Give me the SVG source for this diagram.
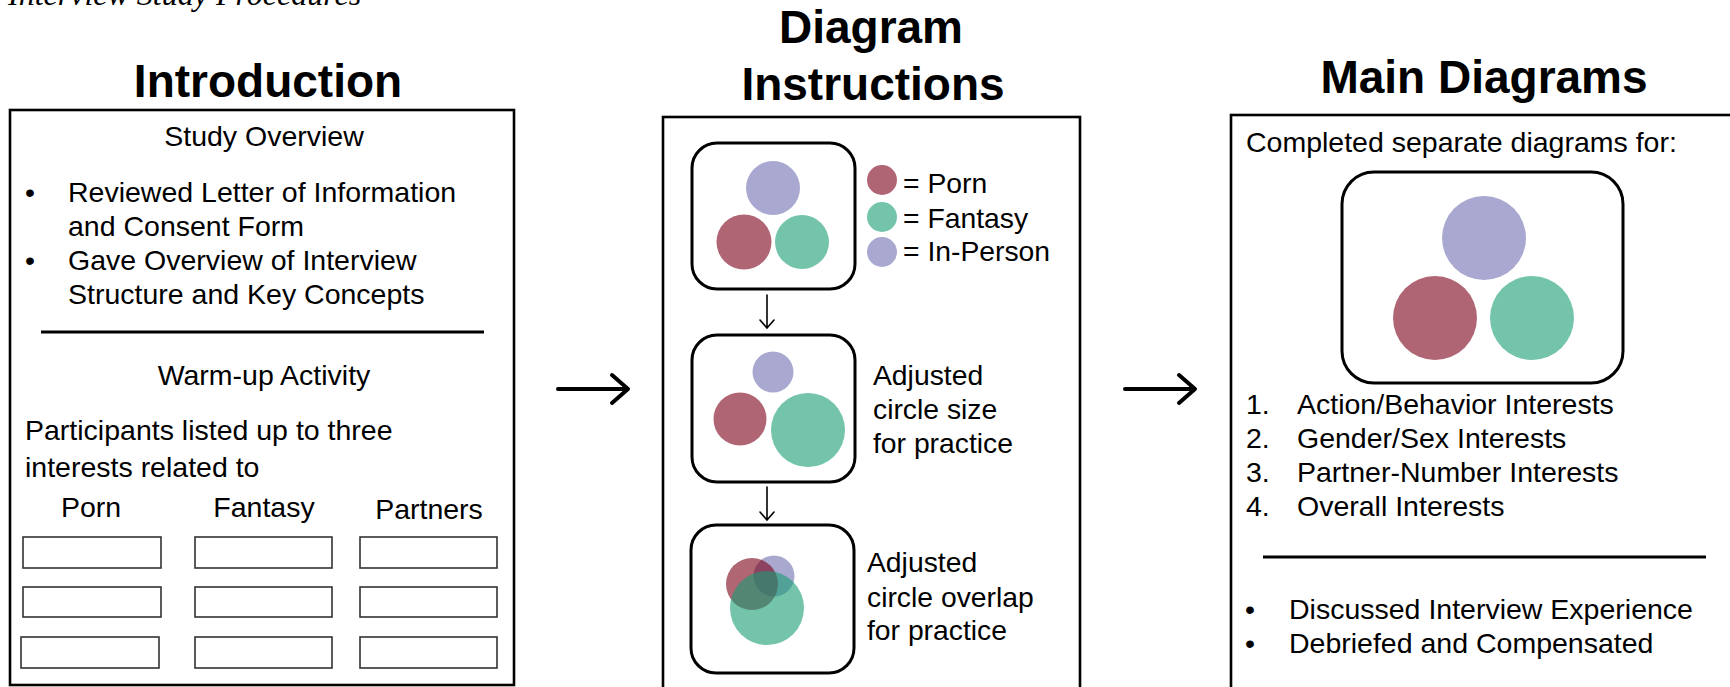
<svg xmlns="http://www.w3.org/2000/svg" width="1730" height="687" viewBox="0 0 1730 687">
<style>
text{font-family:"Liberation Sans",Arial,sans-serif;fill:#000}
.title{font-weight:bold;font-size:46px;text-anchor:middle}
.b{font-size:28.5px}
.m{font-size:28.3px}
.c{text-anchor:middle}
.panel{fill:none;stroke:#000;stroke-width:2.6}
.rbox{fill:#fff;stroke:#000;stroke-width:3}
.sbox{fill:none;stroke:#333;stroke-width:1.6}
.div{stroke:#000;stroke-width:3}
.por{fill:#b06575}
.fan{fill:#74c4ab}
.inp{fill:#a9a8d0}
.por2{fill:#7b0016;fill-opacity:0.6}
.fan2{fill:#179d73;fill-opacity:0.6}
.inp2{fill:#7070b1;fill-opacity:0.6}
.big{fill:none;stroke:#000;stroke-width:4;stroke-linecap:round;stroke-linejoin:round}
.small{fill:none;stroke:#000;stroke-width:1.6;stroke-linecap:round;stroke-linejoin:miter}
</style>

<text x="8" y="5" style="font-family:'Liberation Serif','Times New Roman',serif;font-style:italic;font-size:32px">Interview Study Procedures</text>

<g id="introduction">
<text class="title" x="268" y="97">Introduction</text>
<rect class="panel" x="10" y="110" width="504" height="575"/>
<text class="b c" x="264" y="146">Study Overview</text>
<text class="b" x="25" y="202">•</text>
<text class="b" x="68" y="202">Reviewed Letter of Information</text>
<text class="b" x="68" y="236">and Consent Form</text>
<text class="b" x="25" y="270">•</text>
<text class="b" x="68" y="270">Gave Overview of Interview</text>
<text class="b" x="68" y="304">Structure and Key Concepts</text>
<line class="div" x1="41" y1="332" x2="484" y2="332"/>
<text class="b c" x="264" y="385">Warm-up Activity</text>
<text class="b" x="25" y="440">Participants listed up to three</text>
<text class="b" x="25" y="477">interests related to</text>
<text class="b c" x="91" y="517">Porn</text>
<text class="b c" x="264" y="517">Fantasy</text>
<text class="b c" x="429" y="519">Partners</text>
<rect class="sbox" x="23" y="537" width="138" height="31"/>
<rect class="sbox" x="195" y="537" width="137" height="31"/>
<rect class="sbox" x="360" y="537" width="137" height="31"/>
<rect class="sbox" x="23" y="587" width="138" height="30"/>
<rect class="sbox" x="195" y="587" width="137" height="30"/>
<rect class="sbox" x="360" y="587" width="137" height="30"/>
<rect class="sbox" x="21" y="637" width="138" height="31"/>
<rect class="sbox" x="195" y="637" width="137" height="31"/>
<rect class="sbox" x="360" y="637" width="137" height="31"/>
</g>

<g id="diagram-instructions">
<text class="title" x="871" y="43">Diagram</text>
<text class="title" x="873" y="100">Instructions</text>
<rect class="panel" x="663" y="117" width="417" height="600"/>
</g>

<g id="legend">
<circle class="por" cx="882" cy="180" r="15"/>
<circle class="fan" cx="882" cy="217" r="15"/>
<circle class="inp" cx="882" cy="252" r="15"/>
<text class="m" x="903" y="193">= Porn</text>
<text class="m" x="903" y="228">= Fantasy</text>
<text class="m" x="903" y="261">= In-Person</text>
</g>

<g id="step1">
<rect class="rbox" x="692" y="143" width="163" height="146" rx="25"/>
<circle class="inp" cx="773" cy="188" r="27"/>
<circle class="por" cx="744" cy="242" r="27.5"/>
<circle class="fan" cx="802" cy="242" r="27"/>
</g>

<g id="step2">
<rect class="rbox" x="692" y="335" width="163" height="147" rx="25"/>
<circle class="inp" cx="773" cy="372" r="20.5"/>
<circle class="por" cx="740" cy="419" r="26.5"/>
<circle class="fan" cx="808" cy="430" r="37"/>
<text class="m" x="873" y="385">Adjusted</text>
<text class="m" x="873" y="419">circle size</text>
<text class="m" x="873" y="453">for practice</text>
</g>

<g id="step3">
<rect class="rbox" x="691" y="525" width="163" height="148" rx="25"/>
<circle class="inp2" cx="774" cy="576" r="20.5"/>
<circle class="por2" cx="752" cy="584" r="26"/>
<circle class="fan2" cx="767" cy="608" r="37"/>
<text class="m" x="867" y="572">Adjusted</text>
<text class="m" x="867" y="607">circle overlap</text>
<text class="m" x="867" y="640">for practice</text>
</g>

<g id="main-diagrams">
<text class="title" x="1484" y="93">Main Diagrams</text>
<rect class="panel" x="1231" y="115" width="560" height="600"/>
<text class="b" x="1246" y="152">Completed separate diagrams for:</text>
<rect class="rbox" x="1342" y="172" width="281" height="211" rx="32"/>
<circle class="inp" cx="1484" cy="238" r="42"/>
<circle class="por" cx="1435" cy="318" r="42"/>
<circle class="fan" cx="1532" cy="318" r="42"/>
<text class="b" x="1246" y="414">1.</text>
<text class="b" x="1297" y="414">Action/Behavior Interests</text>
<text class="b" x="1246" y="448">2.</text>
<text class="b" x="1297" y="448">Gender/Sex Interests</text>
<text class="b" x="1246" y="482">3.</text>
<text class="b" x="1297" y="482">Partner-Number Interests</text>
<text class="b" x="1246" y="516">4.</text>
<text class="b" x="1297" y="516">Overall Interests</text>
<line class="div" x1="1263" y1="557" x2="1706" y2="557"/>
<text class="b" x="1245" y="619">•</text>
<text class="b" x="1289" y="619">Discussed Interview Experience</text>
<text class="b" x="1245" y="653">•</text>
<text class="b" x="1289" y="653">Debriefed and Compensated</text>
</g>

<g id="connectors">
<path class="big" d="M558 389H627M612 375L628 389L612 403"/>
<path class="big" d="M1125 389H1194M1179 375L1195 389L1179 403"/>
<path class="small" d="M767 295V327M760 320L767 328L774 320"/>
<path class="small" d="M767 487V519M760 512L767 520L774 512"/>
</g>
</svg>
